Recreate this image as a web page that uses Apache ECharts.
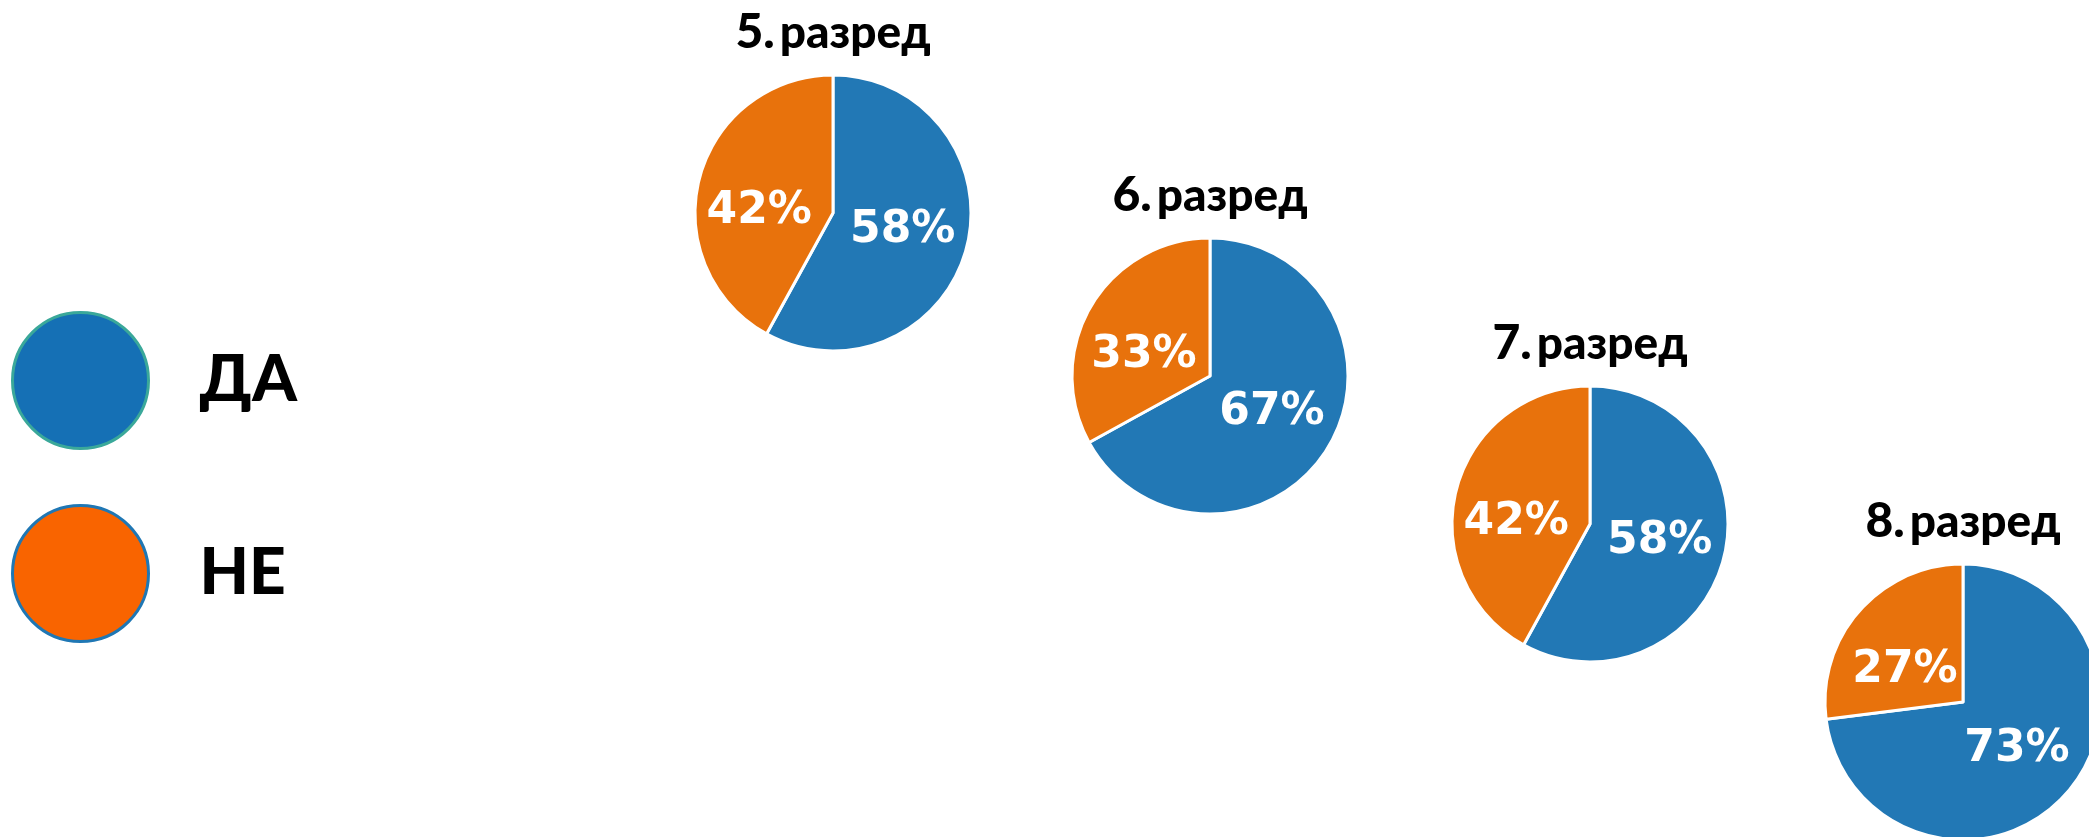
<!DOCTYPE html>
<html>
<head>
<meta charset="utf-8">
<style>
  html, body { margin: 0; padding: 0; background: #fff; }
  #main { width: 2089px; height: 837px; }
</style>
<script src="https://cdn.jsdelivr.net/npm/echarts@6/dist/echarts.min.js"></script>
</head>
<body>
<div id="main"></div>
<script>
// податоци
var grades = ['5. разред', '6. разред', '7. разред', '8. разред'];
var answers = ['ДА', 'НЕ'];
var yesValues = [58, 67, 58, 73];
var noValues = [42, 33, 42, 27];

// распоред на питите (px)
var centers = [[833, 213], [1210, 376], [1590, 524], [1963, 702]];
var pieRadius = 138;

var myChart = echarts.init(document.getElementById('main'));

var titles = grades.map(function (g, i) {
    var parts = g.split(' ');
    return {
        text: '{n|' + parts[0] + '} {t|' + parts[1] + '}',
        left: centers[i][0],
        top: centers[i][1] - 206,
        textAlign: 'center',
        padding: 0,
        textStyle: {
            rich: {
                n: {fontFamily: 'Lato', fontWeight: 900, fontSize: 48, color: '#000', lineHeight: 52},
                t: {fontFamily: 'Lato', fontWeight: 900, fontSize: 46, color: '#000', lineHeight: 52}
            }
        }
    };
});

var series = grades.map(function (g, i) {
    return {
        name: g,
        type: 'pie',
        radius: [0, pieRadius],
        center: centers[i],
        startAngle: 90,
        clockwise: true,
        silent: true,
        label: {
            show: true,
            position: 'inside',
            formatter: '{c}%',
            color: '#fff',
            fontFamily: 'DejaVu Sans',
            fontWeight: 'bold',
            fontSize: 44
        },
        labelLine: {show: false},
        itemStyle: {borderColor: '#fff', borderWidth: 3},
        data: [
            {name: answers[0], value: yesValues[i]},
            {name: answers[1], value: noValues[i], label: {offset: [-4, 16]}}
        ]
    };
});

myChart.setOption({
    animation: false,
    backgroundColor: '#fff',
    color: ['#2278b5', '#e8720c'],
    title: titles,
    legend: {
        orient: 'vertical',
        left: 11,
        top: 311,
        padding: 0,
        itemWidth: 136,
        itemHeight: 136,
        itemGap: 54,
        icon: 'circle',
        selectedMode: false,
        data: [
            {
                name: answers[0],
                itemStyle: {color: '#1570b5', borderColor: '#3aa89a', borderWidth: 3},
                textStyle: {padding: [36, 0, 0, 46]}
            },
            {
                name: answers[1],
                itemStyle: {color: '#f96400', borderColor: '#1f77b4', borderWidth: 3},
                textStyle: {padding: [26, 0, 0, 46]}
            }
        ],
        textStyle: {
            fontFamily: 'Lato',
            fontWeight: 900,
            fontSize: 64,
            color: '#000',
            padding: [28, 0, 0, 46]
        }
    },
    series: series
});
</script>
</body>
</html>
